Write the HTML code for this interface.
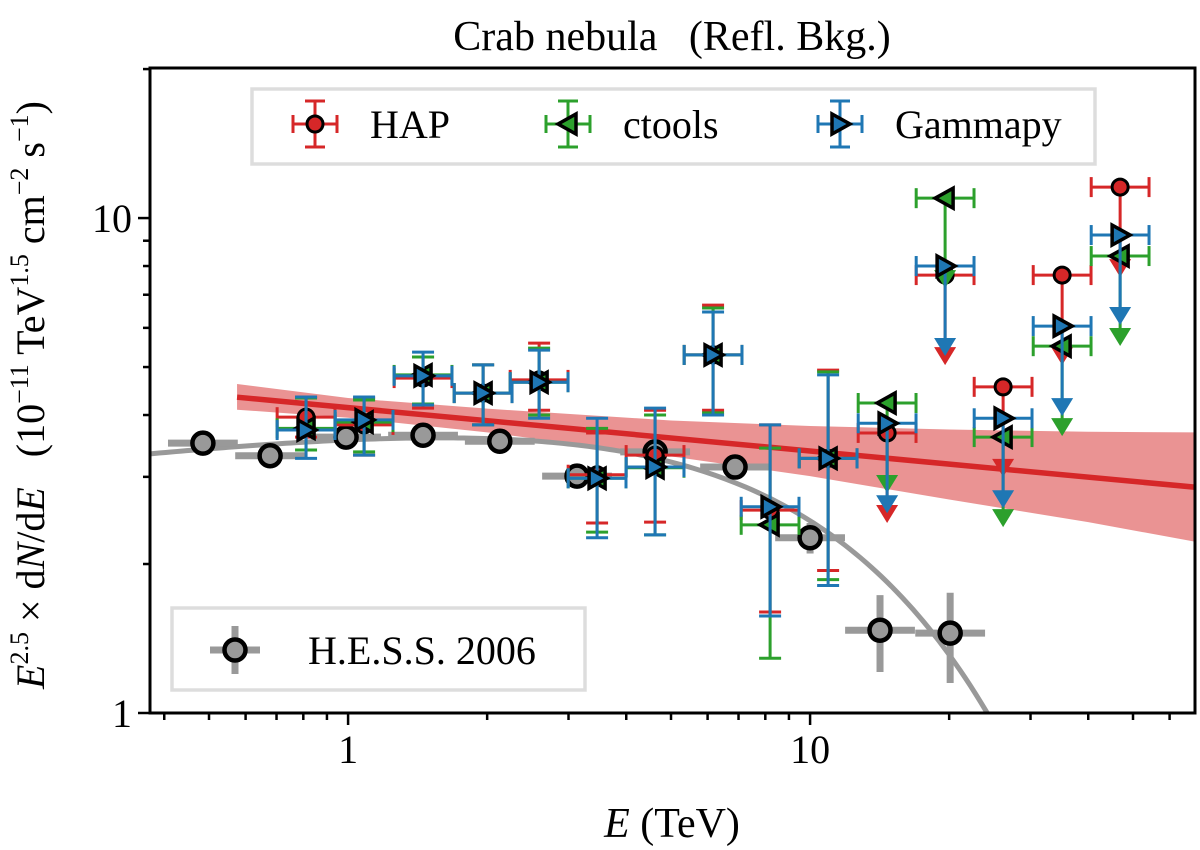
<!DOCTYPE html>
<html><head><meta charset="utf-8">
<style>
html,body{margin:0;padding:0;background:#fff;overflow:hidden;width:1200px;height:850px;}
svg{display:block;font-family:"Liberation Serif",serif;}
svg text{font-family:"Liberation Serif",serif;white-space:pre;}
</style></head>
<body>
<svg id="chart" width="1200" height="850" viewBox="0 0 1200 850" xmlns="http://www.w3.org/2000/svg">
<rect x="0" y="0" width="1200" height="850" fill="#fff"/>
<text x="672" y="50" font-size="42" font-family="Liberation Serif, serif" text-anchor="middle">Crab nebula   (Refl. Bkg.)</text>
<g id="plot"></g>
<g id="axes"></g>
<text x="672" y="837" font-size="42" font-family="Liberation Serif, serif" text-anchor="middle"><tspan font-style="italic">E</tspan> (TeV)</text>
<text transform="translate(44,395) rotate(-90)" font-size="40" font-family="Liberation Serif, serif" text-anchor="middle"><tspan font-style="italic">E</tspan><tspan font-size="26" dy="-16">2.5</tspan><tspan dy="16"> × d</tspan><tspan font-style="italic">N</tspan>/d<tspan font-style="italic">E</tspan>   (10<tspan font-size="26" dy="-16">−11</tspan><tspan dy="16"> TeV</tspan><tspan font-size="26" dy="-16">1.5</tspan><tspan dy="16"> cm</tspan><tspan font-size="26" dy="-16">−2</tspan><tspan dy="16"> s</tspan><tspan font-size="26" dy="-16">−1</tspan><tspan dy="16">)</tspan></text>
<g id="legend"></g>
</svg>
<script>
// ---- data ----
const binE = [0.811,1.083,1.453,1.960,2.591,3.459,4.618,6.166,8.193,10.94,14.68,19.60,26.17,35.12,46.89];
const hapF   = [3.96,3.82,4.75,4.43,4.71,3.03,3.32,5.29,2.57,3.27,3.68,7.67,4.56,7.67,11.55];
const hapLo  = [3.61,3.32,4.13,3.82,4.09,2.42,2.43,4.09,1.60,1.94,null,null,null,null,null];
const hapHi  = [4.35,4.33,5.24,5.05,5.59,3.68,4.09,6.67,3.82,4.93,null,null,null,null,null];
const ctF    = [3.76,3.87,4.82,4.43,4.66,2.98,3.13,5.29,2.40,3.27,4.23,10.97,3.61,5.51,8.38];
const ctLo   = [3.40,3.37,4.21,3.82,4.00,2.32,2.29,4.04,1.29,1.86,null,null,null,null,null];
const ctHi   = [4.33,4.29,5.24,5.05,5.46,3.76,4.00,6.58,3.43,4.89,null,null,null,null,null];
const gpF    = [3.73,3.91,4.80,4.43,4.66,2.98,3.14,5.29,2.61,3.27,3.85,8.00,3.94,6.05,9.24];
const gpLo   = [3.27,3.32,4.19,3.82,3.94,2.26,2.29,4.00,1.57,1.81,null,null,null,null,null];
const gpHi   = [4.35,4.35,5.36,5.05,5.41,3.94,4.13,6.46,3.82,4.82,null,null,null,null,null];
const hessE  = [0.485,0.678,0.99,1.453,2.13,3.13,4.62,6.88,10.0,14.17,20.1];
const hessF  = [3.51,3.31,3.61,3.64,3.54,3.01,3.37,3.14,2.26,1.47,1.45];
const hessDF = [0.06,0.05,0.06,0.07,0.06,0.06,0.10,0.12,0.16,0.26,0.30];
const bandE  = [0.575,1,2,5,10,20,40,68];
const bandHi = [4.62,4.33,4.12,3.90,3.80,3.74,3.70,3.69];
const bandLo = [4.10,3.95,3.69,3.30,3.01,2.70,2.43,2.22];
const fitNorm = 4.14, fitIndex = 2.5877;
const hessNorm = 3.82, hessIndex = 2.39, hessCut = 14.3;
const xTickVals = [1,10];
const xTickLabels = ["1","10"];
const yTickVals = [1,10];
const yTickLabels = ["1","10"];

// ---- axes ----
const X0=150,X1=1195,Y0=68,Y1=713;
const xLogMin=Math.log10(0.3726), xLogMax=Math.log10(68.1);
const yLogMin=0, yLogMax=Math.log10(20.1);
const xs=e=>X0+(Math.log10(e)-xLogMin)/(xLogMax-xLogMin)*(X1-X0);
const ys=f=>Y1-(Math.log10(f)-yLogMin)/(yLogMax-yLogMin)*(Y1-Y0);
const NS="http://www.w3.org/2000/svg";
const FF="Liberation Serif, serif";
function mk(tag,attrs,parent){const el=document.createElementNS(NS,tag);for(const k in attrs)el.setAttribute(k,attrs[k]);parent.appendChild(el);return el;}
const plot=document.getElementById('plot'), axes=document.getElementById('axes'), legend=document.getElementById('legend');
const clip=mk('clipPath',{id:'clp'},plot); mk('rect',{x:X0,y:Y0,width:X1-X0,height:Y1-Y0},clip);
const g=mk('g',{'clip-path':'url(#clp)'},plot);
const RED='#d62728',GREEN='#2ca02c',BLUE='#1f77b4',GRAY='#999999';
const LW=3;

let bp='';
bandE.forEach((e,i)=>{bp+=(i?'L':'M')+xs(e)+','+ys(bandHi[i]);});
for(let i=bandE.length-1;i>=0;i--) bp+='L'+xs(bandE[i])+','+ys(bandLo[i]);
const band=mk('path',{d:bp+'Z',fill:RED,opacity:0.5},g);



let hp='';
for(let i=0;i<=200;i++){const e=Math.pow(10,xLogMin+(xLogMax-xLogMin)*i/200);const f=hessNorm*Math.pow(e,2.5-hessIndex)*Math.exp(-e/hessCut);hp+=(i?'L':'M')+xs(e)+','+ys(f);}
const hc=mk('path',{d:hp,fill:'none',stroke:GRAY,'stroke-width':5},g);



hessE.forEach((e,i)=>{
  const gg=mk('g',{},g);
  
  
  mk('line',{x1:xs(e/1.19),x2:xs(e*1.19),y1:ys(hessF[i]),y2:ys(hessF[i]),stroke:GRAY,'stroke-width':7},gg);
  mk('line',{x1:xs(e),x2:xs(e),y1:ys(hessF[i]-hessDF[i]),y2:ys(hessF[i]+hessDF[i]),stroke:GRAY,'stroke-width':7},gg);
  mk('circle',{cx:xs(e),cy:ys(hessF[i]),r:10.5,fill:GRAY,stroke:'#000','stroke-width':4.5},gg);
});

const fl=mk('line',{x1:xs(bandE[0]),y1:ys(fitNorm*Math.pow(bandE[0],2.5-fitIndex)),x2:xs(80),y2:ys(fitNorm*Math.pow(80,2.5-fitIndex)),stroke:RED,'stroke-width':5.5},g);



function marker(type,x,y,color,parent){
  if(type==='o') return mk('circle',{cx:x,cy:y,r:8,fill:color,stroke:'#000','stroke-width':3},parent);
  if(type==='<') return mk('polygon',{points:`${x-10},${y} ${x+8},${y-10} ${x+8},${y+10}`,fill:color,stroke:'#000','stroke-width':3.5},parent);
  return mk('polygon',{points:`${x+10},${y} ${x-8},${y-10} ${x-8},${y+10}`,fill:color,stroke:'#000','stroke-width':3.5},parent);
}
function series(name,F,Lo,Hi,color,type){
  binE.forEach((e,i)=>{
    const gg=mk('g',{},g);
    
    
    const x=xs(e),y=ys(F[i]),xa=xs(e/1.155),xb=xs(e*1.155);
    mk('line',{x1:xa,x2:xb,y1:y,y2:y,stroke:color,'stroke-width':LW},gg);
    mk('line',{x1:xa,x2:xa,y1:y-10,y2:y+10,stroke:color,'stroke-width':LW},gg);
    mk('line',{x1:xb,x2:xb,y1:y-10,y2:y+10,stroke:color,'stroke-width':LW},gg);
    if(Lo[i]!==null){
      const yl=ys(Lo[i]),yh=ys(Hi[i]);
      mk('line',{x1:x,x2:x,y1:yl,y2:yh,stroke:color,'stroke-width':LW},gg);
      mk('line',{x1:x-11,x2:x+11,y1:yl,y2:yl,stroke:color,'stroke-width':LW},gg);
      mk('line',{x1:x-11,x2:x+11,y1:yh,y2:yh,stroke:color,'stroke-width':LW},gg);
    } else {
      const yt=y+90;
      mk('line',{x1:x,x2:x,y1:y,y2:yt-14,stroke:color,'stroke-width':LW},gg);
      mk('polygon',{points:`${x-11},${yt-18} ${x+11},${yt-18} ${x},${yt}`,fill:color},gg);
    }
    marker(type,x,y,color,gg);
  });
}
series('hap',hapF,hapLo,hapHi,RED,'o');
series('ctools',ctF,ctLo,ctHi,GREEN,'<');
series('gammapy',gpF,gpLo,gpHi,BLUE,'>');

mk('rect',{x:X0,y:Y0,width:X1-X0,height:Y1-Y0,fill:'none',stroke:'#000','stroke-width':3},axes);
for(let d=-1;d<=1;d++)for(let m=1;m<10;m++){const e=m*Math.pow(10,d);if(e<0.3726||e>68.1)continue;const x=xs(e);mk('line',{x1:x,x2:x,y1:Y1,y2:Y1+(m===1?12:7),stroke:'#000','stroke-width':2.5},axes);}
xTickVals.forEach((v,i)=>{const t=mk('text',{x:xs(v),y:Y1+50,'font-size':40,'font-family':FF,'text-anchor':'middle'},axes);t.textContent=xTickLabels[i];});
for(let d=0;d<=1;d++)for(let m=1;m<10;m++){const f=m*Math.pow(10,d);if(f>20.1)continue;const y=ys(f);mk('line',{x1:X0,x2:X0-(m===1?12:7),y1:y,y2:y,stroke:'#000','stroke-width':2.5},axes);}
yTickVals.forEach((v,i)=>{const t=mk('text',{x:X0-18,y:ys(v)+14,'font-size':40,'font-family':FF,'text-anchor':'end'},axes);t.textContent=yTickLabels[i];});

mk('rect',{x:252,y:89,width:843,height:75,fill:'#fff',stroke:'#ddd','stroke-width':3.5},legend);
[['HAP',315,RED,'o',370],['ctools',568,GREEN,'<',623],['Gammapy',840,BLUE,'>',895]].forEach(([lab,x,c,t,tx0])=>{
  const gg=mk('g',{},legend);
  
  
  const y=124;
  mk('line',{x1:x-22,x2:x+22,y1:y,y2:y,stroke:c,'stroke-width':LW},gg);
  mk('line',{x1:x-22,x2:x-22,y1:y-9,y2:y+9,stroke:c,'stroke-width':LW},gg);
  mk('line',{x1:x+22,x2:x+22,y1:y-9,y2:y+9,stroke:c,'stroke-width':LW},gg);
  mk('line',{x1:x,x2:x,y1:y-23,y2:y+23,stroke:c,'stroke-width':LW},gg);
  mk('line',{x1:x-10,x2:x+10,y1:y-23,y2:y-23,stroke:c,'stroke-width':LW},gg);
  mk('line',{x1:x-10,x2:x+10,y1:y+23,y2:y+23,stroke:c,'stroke-width':LW},gg);
  marker(t,x,y,c,gg);
  const tx=mk('text',{x:tx0,y:y+14,'font-size':40,'font-family':FF},gg);tx.textContent=lab;
});
mk('rect',{x:172,y:608,width:413,height:82,fill:'#fff',stroke:'#ddd','stroke-width':3.5},legend);
const hg=mk('g',{},legend);


mk('line',{x1:210,x2:260,y1:650,y2:650,stroke:GRAY,'stroke-width':7},hg);
mk('line',{x1:235,x2:235,y1:626,y2:674,stroke:GRAY,'stroke-width':7},hg);
mk('circle',{cx:235,cy:650,r:10.5,fill:GRAY,stroke:'#000','stroke-width':4.5},hg);
const ht=mk('text',{x:308,y:664,'font-size':40,'font-family':FF},hg);ht.textContent='H.E.S.S. 2006';
</script>
</body></html>
